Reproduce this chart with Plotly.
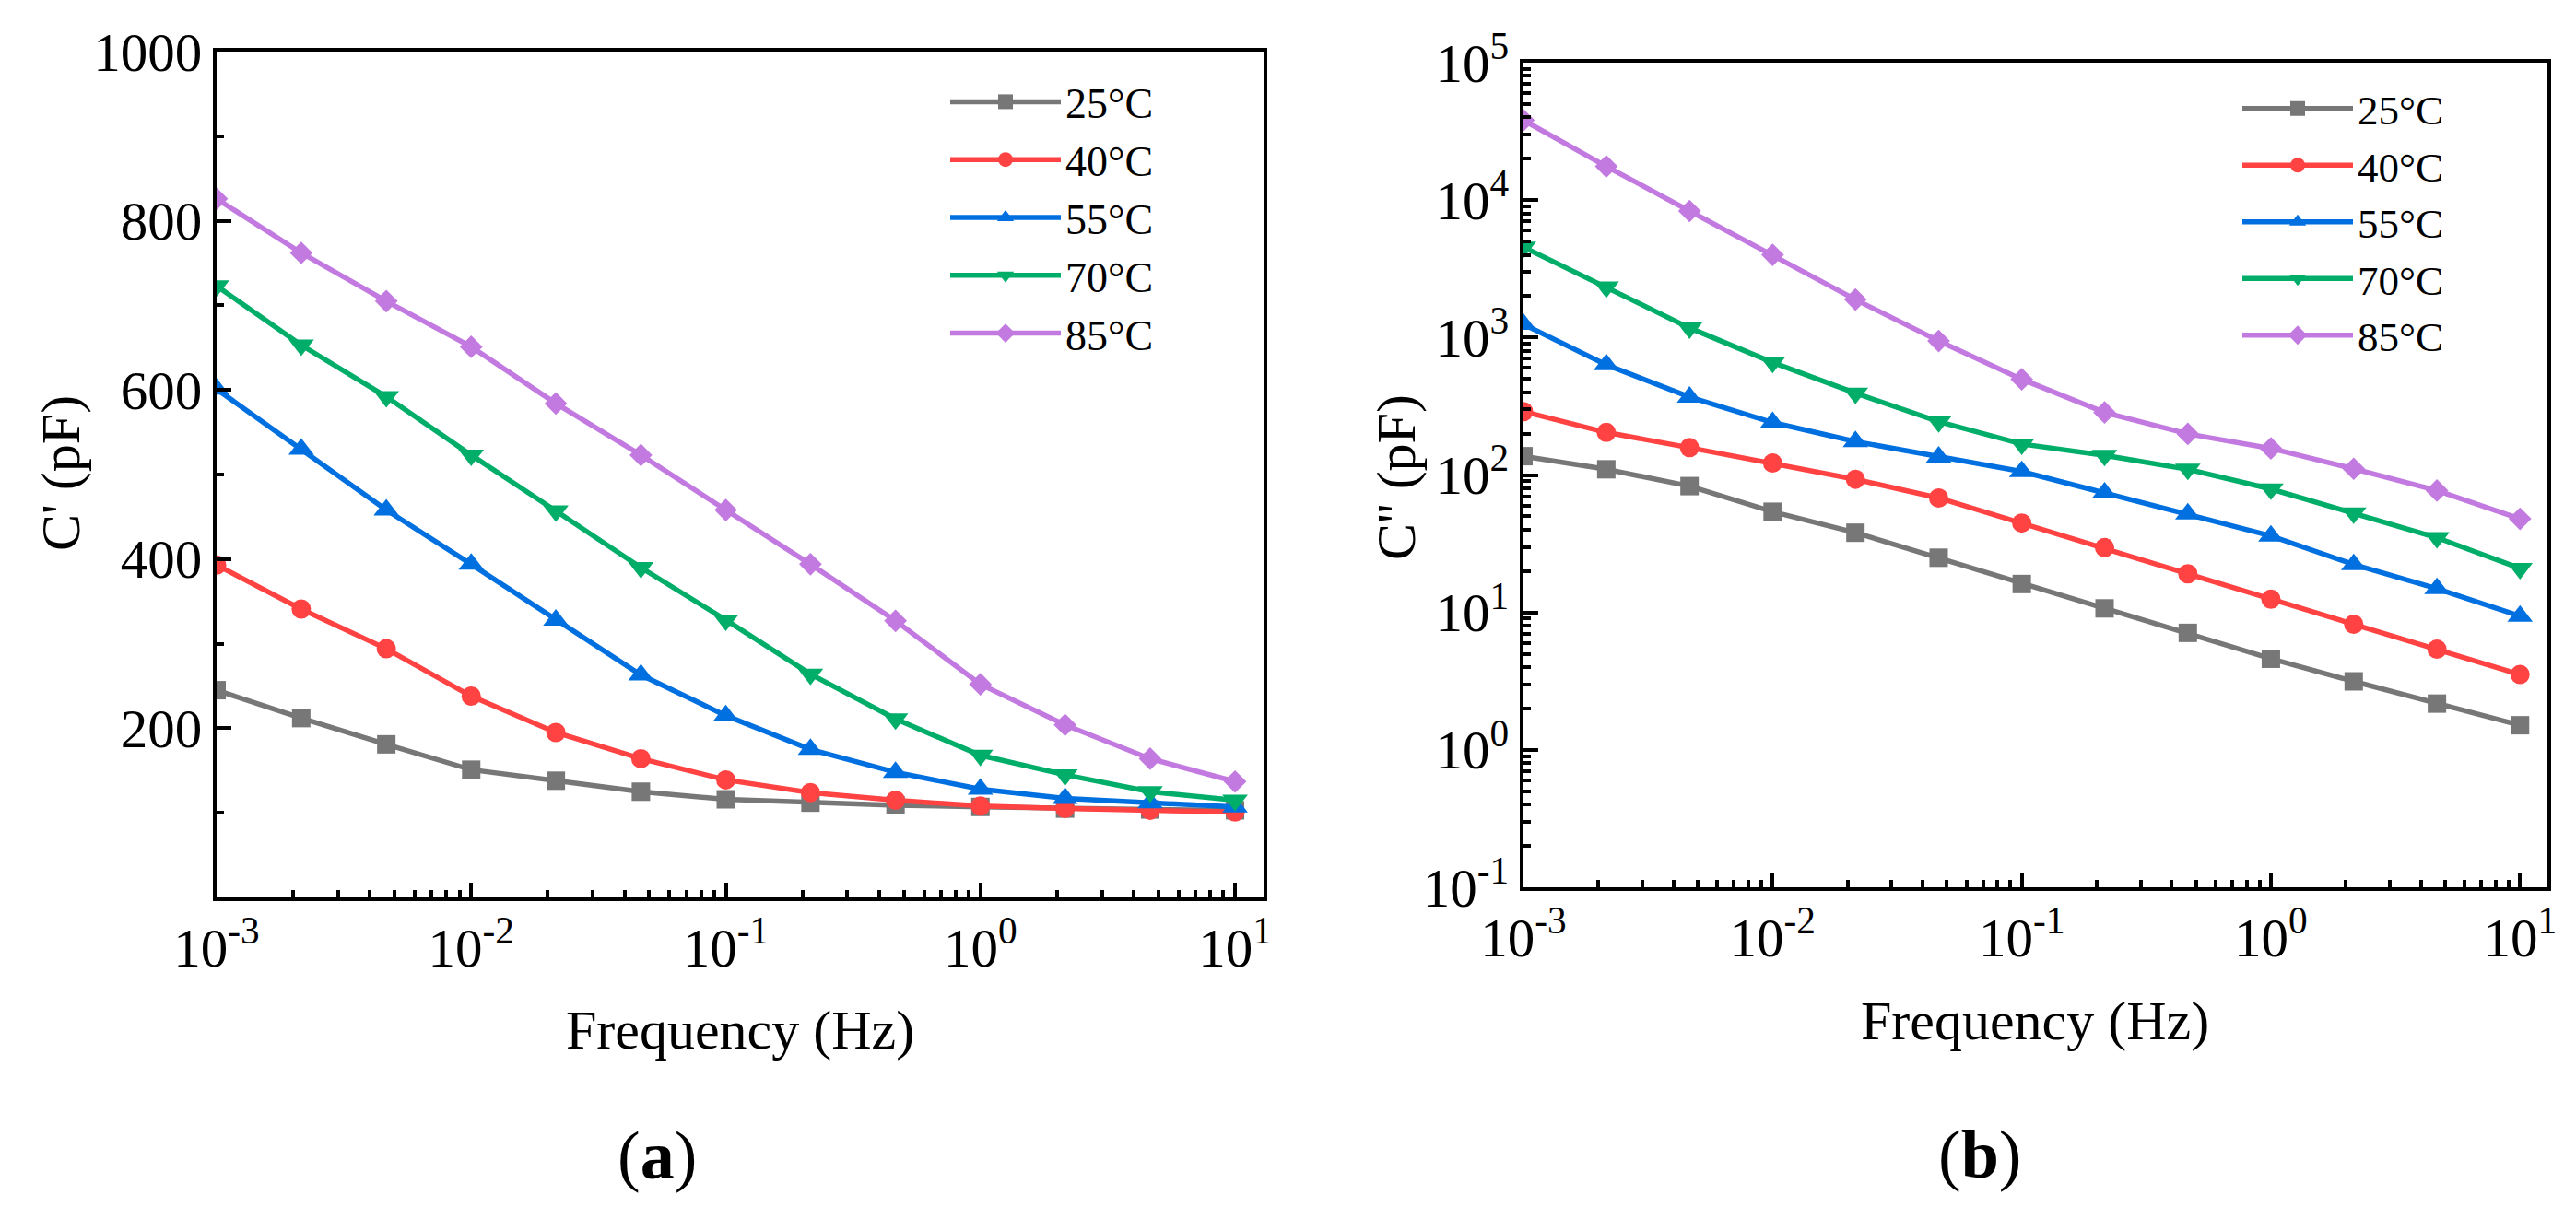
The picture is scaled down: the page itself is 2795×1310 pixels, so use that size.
import plotly.graph_objects as go

# ---------------- data ----------------
freq = [1e-3, 2.15e-3, 4.64e-3, 1e-2, 2.15e-2, 4.64e-2, 0.1, 0.215, 0.464, 1.0, 2.15, 4.64, 10.0]
temps = ["25°C", "40°C", "55°C", "70°C", "85°C"]

# C' (pF)
c_real_25 = [245, 212, 181, 151, 138, 125, 116, 112, 109, 107, 105, 104, 103]
c_real_40 = [393, 341, 294, 238, 195, 164, 139, 124, 115, 108, 105, 103, 101]
c_real_55 = [601, 530, 458, 394, 328, 263, 215, 175, 148, 128, 117, 112, 107]
c_real_70 = [723, 653, 592, 523, 457, 390, 328, 264, 211, 168, 145, 125, 115]
c_real_85 = [826, 762, 705, 651, 584, 523, 458, 394, 327, 252, 204, 164, 137]

# C'' (pF)
c_imag_25 = [137, 110, 83, 54, 38, 25, 16.1, 10.7, 7.1, 4.6, 3.15, 2.17, 1.51]
c_imag_40 = [289, 204, 158, 122, 93, 68, 44.7, 29.6, 19.1, 12.5, 8.2, 5.4, 3.53]
c_imag_55 = [1250, 634, 369, 241, 175, 135, 106, 74, 52, 36, 22.3, 14.9, 9.4]
c_imag_70 = [4550, 2330, 1175, 659, 394, 244, 168, 139, 110, 79, 53, 35, 20.9]
c_imag_85 = [38100, 17600, 8330, 4000, 1890, 944, 497, 285, 199, 156, 111, 77, 48]

x_tickvals = [1e-3, 1e-2, 1e-1, 1, 10]
x_ticktext = ["10<sup>-3</sup>", "10<sup>-2</sup>", "10<sup>-1</sup>", "10<sup>0</sup>", "10<sup>1</sup>"]
y1_tickvals = [200, 400, 600, 800, 1000]
y1_minor = [100, 300, 500, 700, 900]
y2_tickvals = [0.1, 1, 10, 100, 1000, 10000, 100000]
y2_ticktext = ["10<sup>-1</sup>", "10<sup>0</sup>", "10<sup>1</sup>", "10<sup>2</sup>",
               "10<sup>3</sup>", "10<sup>4</sup>", "10<sup>5</sup>"]

colors = ["#777777", "#ff4242", "#0070e0", "#00ad69", "#c27ae0"]
symbols = ["square", "circle", "triangle-up", "triangle-down", "diamond"]
sizes = [20, 21, 24, 24, 19]

real_sets = [c_real_25, c_real_40, c_real_55, c_real_70, c_real_85]
imag_sets = [c_imag_25, c_imag_40, c_imag_55, c_imag_70, c_imag_85]

W, H = 2795, 1310
FONT = "Liberation Serif, Times New Roman, serif"

def minor_log(lo, hi):
    vals = []
    for e in range(lo, hi + 1):
        for m in range(2, 10):
            vals.append(m * 10.0 ** e)
    return vals

fig = go.Figure()
for i in range(5):
    fig.add_trace(go.Scatter(
        x=freq, y=real_sets[i], mode="lines+markers", name=temps[i],
        line=dict(color=colors[i], width=5.5),
        marker=dict(symbol=symbols[i], size=sizes[i], color=colors[i]),
        xaxis="x", yaxis="y", legend="legend"))
for i in range(5):
    fig.add_trace(go.Scatter(
        x=freq, y=imag_sets[i], mode="lines+markers", name=temps[i],
        line=dict(color=colors[i], width=5.5),
        marker=dict(symbol=symbols[i], size=sizes[i], color=colors[i]),
        xaxis="x2", yaxis="y2", legend="legend2"))

tickfont = dict(family=FONT, size=59, color="black")
common = dict(showline=True, linewidth=4, linecolor="black", mirror=True,
              showgrid=False, zeroline=False, ticks="inside", ticklen=16,
              tickwidth=4, tickcolor="black", tickfont=tickfont, automargin=False)
minor_style = dict(ticks="inside", ticklen=8, tickwidth=3.5, tickcolor="black")

fig.update_layout(
    template="none",
    width=W, height=H, autosize=False,
    margin=dict(l=0, r=0, t=0, b=0, pad=0, autoexpand=False),
    paper_bgcolor="white", plot_bgcolor="white",
    font=dict(family=FONT, color="black"),
    xaxis=dict(domain=[227 / W, 1363 / W], type="log", range=[-3, 1.112],
               tickmode="array", tickvals=x_tickvals, ticktext=x_ticktext,
               minor=dict(tickmode="array", tickvals=minor_log(-3, 0), **minor_style),
               anchor="y", **common),
    yaxis=dict(domain=[1 - 966 / H, 1 - 48 / H], range=[0, 1000],
               tickmode="array", tickvals=y1_tickvals,
               minor=dict(tickmode="array", tickvals=y1_minor, **minor_style),
               anchor="x", **common),
    xaxis2=dict(domain=[1645 / W, 2756 / W], type="log", range=[-3, 1.11],
                tickmode="array", tickvals=x_tickvals, ticktext=x_ticktext,
                minor=dict(tickmode="array", tickvals=minor_log(-3, 0), **minor_style),
                anchor="y2", **common),
    yaxis2=dict(domain=[1 - 955 / H, 1 - 60 / H], type="log", range=[-1, 5],
                tickmode="array", tickvals=y2_tickvals, ticktext=y2_ticktext,
                minor=dict(tickmode="array", tickvals=minor_log(-1, 4), **minor_style),
                anchor="x2", **common),
    legend=dict(x=1018 / W, y=1 - 66 / H, xanchor="left", yanchor="top",
                bgcolor="rgba(0,0,0,0)", borderwidth=0, itemwidth=120,
                font=dict(family=FONT, size=46, color="black"), tracegroupgap=0),
    legend2=dict(x=2420 / W, y=1 - 74 / H, xanchor="left", yanchor="top",
                 bgcolor="rgba(0,0,0,0)", borderwidth=0, itemwidth=120,
                 font=dict(family=FONT, size=45, color="black"), tracegroupgap=0),
    showlegend=True,
)

annots = [
    dict(text="C' (pF)", x=58 / W, y=1 - 506 / H, textangle=-90, size=60),
    dict(text="C'' (pF)", x=1507 / W, y=1 - 510 / H, textangle=-90, size=60),
    dict(text="Frequency (Hz)", x=795 / W, y=1 - 1110 / H, textangle=0, size=60),
    dict(text="Frequency (Hz)", x=2200 / W, y=1 - 1100 / H, textangle=0, size=60),
    dict(text="(<b>a</b>)", x=705 / W, y=1 - 1246 / H, textangle=0, size=74),
    dict(text="(<b>b</b>)", x=2140 / W, y=1 - 1245 / H, textangle=0, size=74),
]
for a in annots:
    fig.add_annotation(text=a["text"], x=a["x"], y=a["y"], xref="paper", yref="paper",
                       xanchor="center", yanchor="middle", showarrow=False,
                       textangle=a["textangle"],
                       font=dict(family=FONT, size=a["size"], color="black"))

fig.write_html("out.html")
